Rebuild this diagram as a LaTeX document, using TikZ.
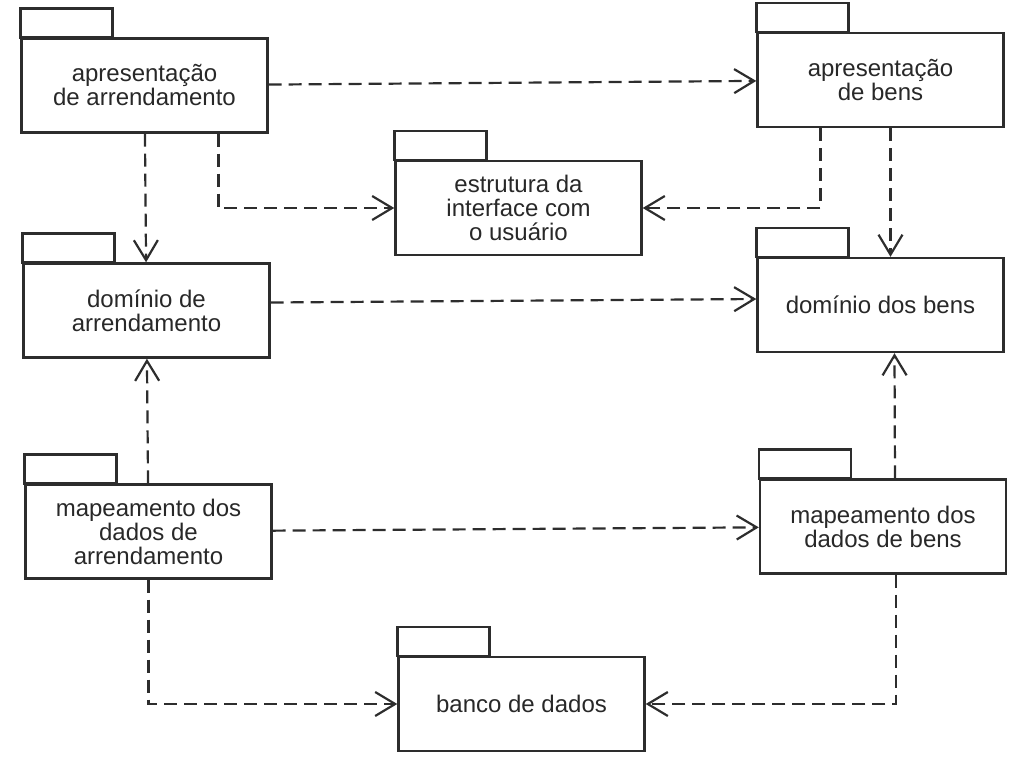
\documentclass[tikz,border=0pt]{standalone}
\usepackage{fontspec}
\setmainfont{Liberation Sans}
\usepackage{tikz}
\usetikzlibrary{positioning,arrows.meta}
\definecolor{pkgline}{RGB}{45,45,45}
\definecolor{pkgtext}{RGB}{40,40,40}

\begin{document}
\begin{tikzpicture}[
        x=0.5pt, y=-0.5pt,
        every node/.style={font=\fontsize{12}{12}\selectfont, text=pkgtext},
        pkg/.style={rectangle, draw=pkgline, line width=1.2pt, minimum width=123pt, minimum height=47pt, align=center, inner sep=0pt},
        pkgtab/.style={rectangle, draw=pkgline, line width=1.2pt, minimum width=46pt, minimum height=14.5pt, inner sep=0pt, outer sep=0pt},
        dep/.style={->, draw=pkgline, line width=1.1pt, dash pattern=on 6.5pt off 3.5pt, >={Straight Barb[length=10pt,width=12pt]}}
    ]
        \useasboundingbox (0,0) rectangle (1018,762);

        % Top row: presentation
        \node[pkg] (presArr) at (144.5,85.5) {apresentação\\de arrendamento};
        \node[pkg] (presBens) at (880.5,80) {apresentação\\de bens};
        \node[pkg] (estrutura) at (518.5,208) {estrutura da\\interface com\\o usuário};

        % Middle row: domain
        \node[pkg] (domArr) at (146.5,310.5) {domínio de\\arrendamento};
        \node[pkg] (domBens) at (880.5,305) {domínio dos bens};

        % Lower row: data mapping
        \node[pkg] (mapArr) at (148.5,531.5) {mapeamento dos\\dados de\\arrendamento};
        \node[pkg] (mapBens) at (883,526.5) {mapeamento dos\\dados de bens};

        % Bottom: database
        \node[pkg] (banco) at (521.5,704) {banco de dados};

        % Tabs
        \node[pkgtab, above right=0pt of presArr.north west] (presArrTab) {};
        \node[pkgtab, above right=0pt of presBens.north west] (presBensTab) {};
        \node[pkgtab, above right=0pt of estrutura.north west] (estruturaTab) {};
        \node[pkgtab, above right=0pt of domArr.north west] (domArrTab) {};
        \node[pkgtab, above right=0pt of domBens.north west] (domBensTab) {};
        \node[pkgtab, above right=0pt of mapArr.north west] (mapArrTab) {};
        \node[pkgtab, above right=0pt of mapBens.north west] (mapBensTab) {};
        \node[pkgtab, above right=0pt of banco.north west] (bancoTab) {};

        % Dependencies
        \draw[dep] (presArr) -- (presBens);
        \draw[dep] (presArr) -- (domArr);
        \draw[dep] ([xshift=37pt]presArr.south) |- (estrutura.west);
        \draw[dep] ([xshift=-30pt]presBens.south) |- (estrutura.east);
        \draw[dep] ([xshift=5pt]presBens.south) -- ([xshift=5pt]domBens.north);
        \draw[dep] ([yshift=4pt]domArr.east) -- ([yshift=3pt]domBens.west);
        \draw[dep] (mapArr) -- (domArr);
        \draw[dep] (mapArr) -- (mapBens);
        \draw[dep] ([xshift=6pt]mapBens.north) -- ([xshift=7pt]domBens.south);
        \draw[dep] (mapArr.south) |- (banco.west);
        \draw[dep] ([xshift=6.5pt]mapBens.south) |- (banco.east);
    \end{tikzpicture}
\end{document}
